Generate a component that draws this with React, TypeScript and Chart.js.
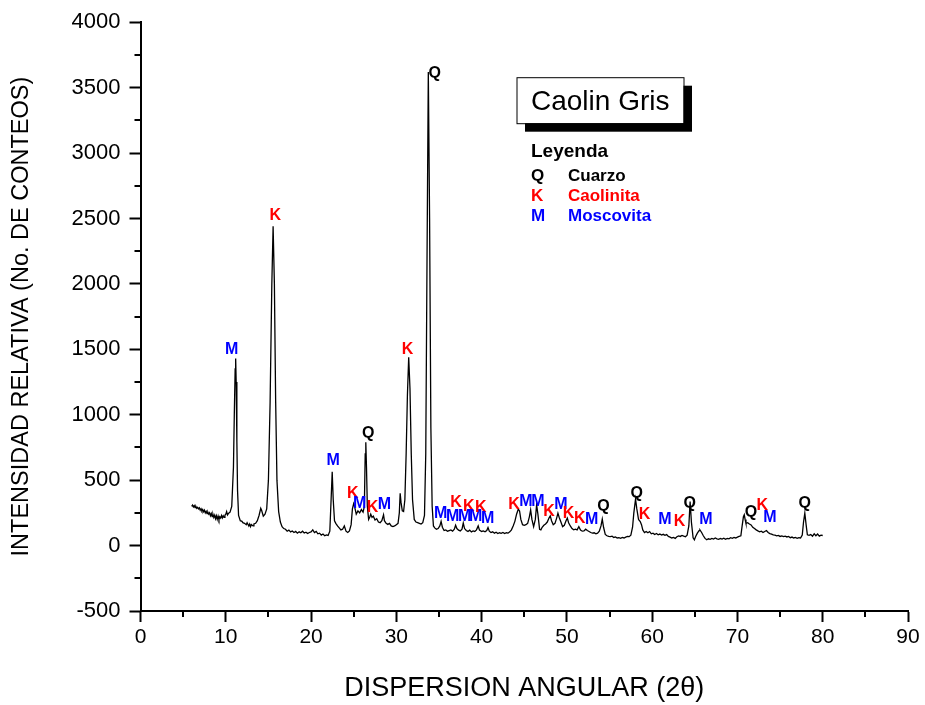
import React, { useEffect, useRef } from 'react';
import { Chart, registerables } from 'chart.js';

Chart.register(...registerables);

const FONT = '"Liberation Sans", Arial, Helvetica, sans-serif';

// Axis ticks
const xTickValues = [0, 10, 20, 30, 40, 50, 60, 70, 80, 90];
const xMinorTicks = [5, 15, 25, 35, 45, 55, 65, 75, 85];
const yTickValues = [-500, 0, 500, 1000, 1500, 2000, 2500, 3000, 3500, 4000];
const yMinorTicks = [-250, 250, 750, 1250, 1750, 2250, 2750, 3250, 3750];

// XRD pattern (2θ, counts)
const patternA: [number, number][] = [
  [6.0, 300], [6.1, 310], [6.2, 295], [6.3, 305], [6.4, 290], [6.5, 298], [6.6, 285], [6.7, 292],
  [6.8, 280], [6.9, 288], [7.0, 270], [7.1, 282], [7.2, 265], [7.3, 275], [7.4, 258], [7.5, 270],
  [7.6, 250], [7.7, 262], [7.8, 245], [7.9, 255], [8.0, 240], [8.1, 250], [8.2, 228], [8.3, 245],
  [8.4, 222], [8.5, 238], [8.6, 215], [8.7, 232], [8.8, 205], [8.9, 228], [9.0, 200], [9.1, 225],
  [9.2, 198], [9.3, 220], [9.4, 210], [9.5, 230], [9.6, 212], [9.7, 228], [9.8, 215], [9.9, 232],
  [10.0, 240], [10.1, 260], [10.2, 235], [10.3, 245], [10.5, 255], [10.7, 300], [10.9, 600],
  [11.0, 1000], [11.1, 1350], [11.16, 1430], [11.22, 1250], [11.3, 800], [11.38, 420], [11.5, 230],
  [11.7, 190], [11.9, 185], [12.0, 175], [12.2, 170], [12.4, 160], [12.5, 175], [12.7, 150],
  [12.8, 165], [12.9, 145], [13.0, 160], [13.2, 150], [13.3, 165], [13.5, 170], [13.7, 190],
  [13.9, 230], [14.1, 285], [14.2, 270], [14.4, 225], [14.6, 240], [14.8, 280], [15.0, 500],
  [15.2, 1100], [15.4, 2000], [15.55, 2440], [15.7, 2000], [15.85, 1100], [16.0, 500], [16.2, 260],
  [16.4, 180], [16.6, 145], [16.8, 130], [17.0, 125], [17.2, 110], [17.4, 118], [17.6, 105],
  [17.8, 112], [18.0, 100], [18.2, 108], [18.4, 95], [18.6, 105], [18.8, 98], [19.0, 110],
  [19.2, 96], [19.4, 102], [19.6, 92], [19.8, 100], [20.0, 105], [20.2, 120], [20.4, 100],
  [20.6, 108], [20.8, 90], [21.0, 95], [21.2, 80], [21.4, 88], [21.6, 75], [21.8, 82], [22.0, 78],
];

const patternB: [number, number][] = [
  [22.2, 110], [22.35, 350], [22.48, 565], [22.6, 350], [22.75, 190], [22.9, 170], [23.1, 150],
  [23.3, 135], [23.5, 120], [23.7, 125], [23.9, 150], [24.1, 110], [24.3, 100], [24.5, 112],
  [24.7, 160], [24.85, 280], [25.0, 320], [25.1, 300], [25.3, 240], [25.5, 265], [25.7, 250],
  [25.9, 275], [26.1, 255], [26.25, 300], [26.35, 700], [26.42, 790], [26.5, 600], [26.6, 300],
  [26.75, 200], [26.9, 220], [27.0, 240], [27.15, 215], [27.3, 225], [27.5, 195], [27.7, 205],
  [27.9, 180], [28.1, 175], [28.3, 190], [28.5, 235], [28.6, 190], [28.8, 170], [29.0, 162],
  [29.2, 170], [29.4, 150], [29.6, 145], [29.8, 150], [30.0, 160], [30.2, 170], [30.35, 250],
  [30.45, 400], [30.55, 330], [30.7, 265], [30.85, 260], [31.0, 350], [31.15, 700], [31.3, 1150],
  [31.45, 1440], [31.6, 1200], [31.75, 700], [31.9, 350], [32.1, 200], [32.3, 180], [32.5, 175],
  [32.7, 170], [32.9, 165], [33.1, 175], [33.3, 230], [33.45, 700], [33.6, 2200], [33.75, 3620],
  [33.9, 2500], [34.05, 900], [34.2, 300], [34.35, 150], [34.5, 135], [34.7, 125], [34.9, 130],
  [35.1, 150], [35.25, 185], [35.4, 140], [35.6, 115], [35.8, 120], [36.0, 110], [36.2, 115],
  [36.4, 120], [36.6, 110], [36.8, 125], [36.95, 155], [37.1, 130], [37.3, 118], [37.5, 112],
  [37.7, 125], [37.85, 172], [38.0, 130], [38.2, 115], [38.4, 108], [38.6, 118], [38.8, 105],
  [39.0, 112], [39.2, 108], [39.4, 120], [39.6, 150], [39.75, 118], [40.0, 108], [40.2, 112],
  [40.4, 105], [40.6, 115], [40.75, 138], [40.9, 110], [41.1, 100], [41.3, 105], [41.5, 95],
  [41.7, 102], [41.9, 92], [42.1, 98], [42.3, 94], [42.5, 100], [42.7, 92], [42.9, 98], [43.1, 95],
];

const patternC: [number, number][] = [
  [43.3, 105], [43.5, 120], [43.7, 150], [43.9, 185], [44.1, 240], [44.3, 278], [44.45, 265],
  [44.6, 200], [44.8, 160], [45.0, 155], [45.2, 160], [45.4, 170], [45.6, 220], [45.75, 273],
  [45.9, 200], [46.1, 145], [46.3, 200], [46.45, 311], [46.6, 240], [46.8, 125], [46.95, 120],
  [47.1, 140], [47.3, 155], [47.5, 165], [47.7, 180], [47.9, 210], [48.05, 227], [48.2, 190],
  [48.4, 160], [48.6, 170], [48.8, 210], [48.95, 248], [49.1, 215], [49.3, 180], [49.5, 145],
  [49.7, 155], [49.9, 190], [50.05, 210], [50.2, 175], [50.4, 150], [50.6, 130], [50.8, 120],
  [51.0, 125], [51.2, 120], [51.4, 145], [51.6, 118], [51.8, 110], [52.0, 112], [52.2, 125],
  [52.4, 115], [52.6, 108], [52.8, 100], [53.0, 95], [53.2, 98], [53.4, 90], [53.6, 95],
  [53.8, 110], [54.0, 150], [54.15, 202], [54.3, 140], [54.5, 85], [54.7, 75], [54.9, 70],
  [55.1, 68], [55.3, 72], [55.5, 62], [55.7, 66], [55.9, 58], [56.1, 60], [56.3, 55], [56.5, 62],
  [56.7, 58], [56.9, 65], [57.1, 70], [57.3, 68], [57.5, 80], [57.7, 140], [57.85, 250],
  [58.05, 355], [58.2, 280], [58.4, 200], [58.6, 184], [58.75, 160], [58.9, 120], [59.1, 100],
  [59.3, 108], [59.5, 98], [59.7, 107], [59.9, 90], [60.1, 95], [60.3, 85], [60.5, 92],
  [60.7, 82], [60.9, 88], [61.1, 80], [61.3, 86], [61.5, 78], [61.7, 84], [61.9, 70],
];

const patternD: [number, number][] = [
  [62.1, 65], [62.3, 58], [62.5, 62], [62.7, 55], [62.9, 68], [63.1, 74], [63.3, 70], [63.5, 78],
  [63.7, 72], [63.9, 68], [64.1, 80], [64.3, 150], [64.45, 337], [64.6, 180], [64.8, 60],
  [64.95, 44], [65.1, 70], [65.3, 95], [65.5, 115], [65.6, 120], [65.8, 100], [66.0, 75],
  [66.2, 55], [66.4, 44], [66.6, 52], [66.8, 48], [67.0, 55], [67.2, 50], [67.4, 58], [67.6, 52],
  [67.8, 48], [68.0, 54], [68.2, 50], [68.4, 56], [68.6, 48], [68.8, 55], [69.0, 52], [69.2, 60],
  [69.4, 55], [69.6, 62], [69.8, 58], [70.0, 65], [70.2, 70], [70.4, 75], [70.55, 150],
  [70.7, 220], [70.8, 235], [70.9, 200], [71.0, 170], [71.2, 175], [71.4, 165], [71.6, 158],
  [71.8, 140], [72.0, 130], [72.2, 120], [72.4, 112], [72.6, 105], [72.8, 110], [73.0, 100],
  [73.2, 108], [73.4, 115], [73.6, 100], [73.8, 92], [74.0, 88], [74.2, 82], [74.4, 80],
  [74.6, 75], [74.8, 78], [75.0, 70], [75.2, 74], [75.4, 68], [75.6, 72], [75.8, 66], [76.0, 70],
  [76.2, 60], [76.4, 65], [76.6, 58], [76.8, 62], [77.0, 55], [77.2, 60], [77.4, 58], [77.6, 80],
  [77.75, 180], [77.9, 248], [78.05, 160], [78.2, 82], [78.4, 78], [78.6, 85], [78.8, 72],
  [79.0, 90], [79.2, 75], [79.4, 88], [79.6, 72], [79.8, 80], [80.0, 77],
];

// Peak labels: [phase, 2θ, counts] (label centre)
const peakLabels: [string, number, number][] = [
  ['M', 10.7, 1497], ['K', 15.8, 2522], ['M', 22.6, 648], ['K', 24.9, 396], ['M', 25.7, 319],
  ['Q', 26.7, 855], ['K', 27.2, 289], ['M', 28.6, 312], ['K', 31.3, 1497], ['Q', 34.5, 3608],
  ['M', 35.2, 243], ['M', 36.6, 220], ['K', 37.0, 327], ['M', 38.0, 220], ['K', 38.5, 296],
  ['M', 39.3, 220], ['K', 39.9, 289], ['M', 40.7, 204], ['K', 43.8, 312], ['M', 45.2, 335],
  ['M', 46.6, 335], ['K', 47.9, 258], ['M', 49.3, 312], ['K', 50.2, 243], ['K', 51.5, 204],
  ['M', 52.9, 197], ['Q', 54.3, 296], ['Q', 58.2, 396], ['K', 59.1, 235], ['M', 61.5, 197],
  ['K', 63.2, 181], ['Q', 64.4, 319], ['M', 66.3, 197], ['Q', 71.6, 250], ['K', 72.9, 304],
  ['M', 73.8, 212], ['Q', 77.9, 319],
];

const phaseColors: Record<string, string> = { Q: '#000000', K: '#ff0000', M: '#0000ff' };
const legendSymbols = ['Q', 'K', 'M'];
const legendNames = ['Cuarzo', 'Caolinita', 'Moscovita'];
const sampleTitle = 'Caolin Gris';
const legendTitle = 'Leyenda';
const xTitle = 'DISPERSION ANGULAR (2θ)';
const yTitle = 'INTENSIDAD RELATIVA (No. DE CONTEOS)';

const decorPlugin = {
  id: 'xrdDecor',
  afterDraw(chart: any) {
    const { ctx, chartArea, scales } = chart;
    const xs = scales.x;
    const ys = scales.y;
    ctx.save();
    // minor ticks
    ctx.strokeStyle = '#000';
    ctx.lineWidth = 2;
    ctx.beginPath();
    xMinorTicks.forEach((v) => {
      const px = Math.round(xs.getPixelForValue(v));
      ctx.moveTo(px, chartArea.bottom);
      ctx.lineTo(px, chartArea.bottom + 6);
    });
    yMinorTicks.forEach((v) => {
      const py = Math.round(ys.getPixelForValue(v));
      ctx.moveTo(chartArea.left - 6, py);
      ctx.lineTo(chartArea.left, py);
    });
    ctx.stroke();

    // peak labels
    ctx.font = `bold 16px ${FONT}`;
    ctx.textAlign = 'center';
    ctx.textBaseline = 'middle';
    peakLabels.forEach(([ph, x, y]) => {
      ctx.fillStyle = phaseColors[ph];
      ctx.fillText(ph, xs.getPixelForValue(x), ys.getPixelForValue(y));
    });

    // sample title box with shadow
    const bx = chartArea.left + 376;
    const by = chartArea.top + 55;
    const bw = 167;
    const bh = 46;
    ctx.fillStyle = '#000';
    ctx.fillRect(bx + 8.5, by + 8.5, bw, bh);
    ctx.fillStyle = '#fff';
    ctx.fillRect(bx, by, bw, bh);
    ctx.strokeStyle = '#000';
    ctx.lineWidth = 1;
    ctx.strokeRect(bx + 0.5, by + 0.5, bw, bh);
    ctx.fillStyle = '#000';
    ctx.textAlign = 'left';
    ctx.textBaseline = 'alphabetic';
    ctx.font = `28px ${FONT}`;
    ctx.fillText(sampleTitle, bx + 14.5, by + 32.5);

    // legend
    const lx = bx + 14.5;
    ctx.font = `bold 19px ${FONT}`;
    ctx.fillText(legendTitle, lx, by + 80);
    ctx.font = `bold 17px ${FONT}`;
    legendSymbols.forEach((s, i) => {
      const yy = by + 104 + i * 19.8;
      ctx.fillStyle = phaseColors[s];
      ctx.fillText(s, lx, yy);
      ctx.fillText(legendNames[i], lx + 37, yy);
    });
    ctx.restore();
  },
};

export default function App() {
  const canvasRef = useRef<HTMLCanvasElement | null>(null);

  useEffect(() => {
    const canvas = canvasRef.current;
    if (!canvas) return;
    const data = [...patternA, ...patternB, ...patternC, ...patternD].map(([x, y]) => ({ x, y }));
    const chart = new Chart(canvas, {
      type: 'line',
      data: {
        datasets: [
          {
            data,
            borderColor: '#000',
            borderWidth: 1.3,
            pointRadius: 0,
            tension: 0,
            fill: false,
          },
        ],
      },
      options: {
        animation: false,
        responsive: false,
        devicePixelRatio: 1,
        layout: { padding: { left: 0, top: 22, right: 17, bottom: 0 } },
        plugins: { legend: { display: false }, tooltip: { enabled: false } },
        scales: {
          x: {
            type: 'linear',
            min: 0,
            max: 90,
            afterBuildTicks: (s: any) => {
              s.ticks = xTickValues.map((v) => ({ value: v }));
            },
            afterFit: (s: any) => {
              s.height = 94;
            },
            border: { display: true, color: '#000', width: 2 },
            grid: { display: true, drawOnChartArea: false, drawTicks: true, tickLength: 11, tickWidth: 2, tickColor: '#000' },
            ticks: {
              color: '#000',
              font: { family: FONT, size: 21 },
              padding: 3,
              maxRotation: 0,
              callback: (v: any) => String(v),
            },
            title: {
              display: true,
              text: xTitle,
              color: '#000',
              font: { family: FONT, size: 27 },
              padding: { top: 0, bottom: 0 },
            },
          },
          y: {
            type: 'linear',
            min: -500,
            max: 4000,
            afterBuildTicks: (s: any) => {
              s.ticks = yTickValues.map((v) => ({ value: v }));
            },
            afterFit: (s: any) => {
              s.width = 140.5;
            },
            border: { display: true, color: '#000', width: 2 },
            grid: { display: true, drawOnChartArea: false, drawTicks: true, tickLength: 11, tickWidth: 2, tickColor: '#000' },
            ticks: {
              color: '#000',
              font: { family: FONT, size: 22 },
              padding: 9,
              callback: (v: any) => String(v),
            },
            title: {
              display: true,
              text: yTitle,
              color: '#000',
              font: { family: FONT, size: 23.5 },
              padding: { top: 7, bottom: 0 },
            },
          },
        },
      },
      plugins: [decorPlugin],
    });
    return () => chart.destroy();
  }, []);

  return (
    <div style={{ position: 'absolute', left: 0, top: 0, width: 925, height: 705, background: '#fff' }}>
      <canvas ref={canvasRef} width={925} height={705} style={{ display: 'block', width: 925, height: 705 }} />
    </div>
  );
}
